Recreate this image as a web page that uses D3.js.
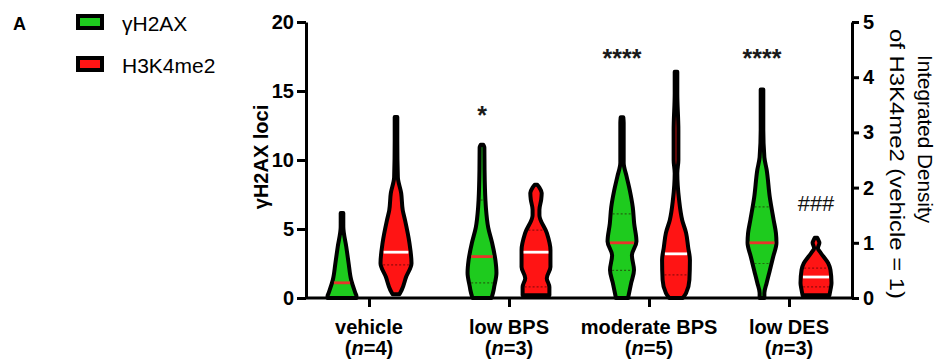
<!DOCTYPE html>
<html><head><meta charset="utf-8">
<script src="https://cdn.jsdelivr.net/npm/d3@7"></script>
<style>
body{margin:0;background:#fff}
text{font-family:"Liberation Sans",Arial,Helvetica,sans-serif}
</style>
</head><body>
<svg id="c" width="941" height="364"></svg>
<script>
// ---------- data ----------
const categories = ["vehicle", "low BPS", "moderate BPS", "low DES"];
const nValues = ["4", "3", "5", "3"];
const series = ["γH2AX", "H3K4me2"];
const leftTicks = [0, 5, 10, 15, 20];
const rightTicks = [0, 1, 2, 3, 4, 5];
const greenStars = ["", "*", "****", "****"];
const redMarks = ["", "", "", "###"];

// γH2AX loci violins: [value, relative density]
const greenVehicle = [[0,0.94],[0.14,0.94],[0.36,0.88],[1.3,0.64],[2.54,0.49],[3.7,0.36],[5.14,0.19],[5.6,0.17],[6.16,0.12]];
const greenLowBPS = [[0,0.66],[0.58,0.78],[0.8,0.81],[1.83,0.94],[2.75,0.88],[4.0,0.69],[5.1,0.47],[6.5,0.34],[7.1,0.31],[9.3,0.26],[10.9,0.25],[11.1,0.14]];
const greenModBPS = [[0,0.46],[1.09,0.64],[2.03,0.8],[3.1,0.68],[4.1,0.94],[5.4,0.81],[6.58,0.73],[7.8,0.56],[8.8,0.38],[9.8,0.21],[12.7,0.21],[13.1,0.12]];
const greenLowDES = [[0,0.25],[0.36,0.25],[1.09,0.38],[2.0,0.56],[2.97,0.75],[4.0,0.94],[4.71,0.91],[5.65,0.78],[7.3,0.56],[9.3,0.38],[10.2,0.25],[12.2,0.16],[14.7,0.17],[15.1,0.1]];
const greenMedians = [1.1, 3.0, 4.0, 4.0];
const greenQuartiles = [[], [1.1, 7.1], [2.0, 6.1], [2.5, 6.6]];

// H3K4me2 integrated density violins (right axis): [value, relative density]
const redVehicle = [[0.07,0.31],[0.145,0.44],[0.38,0.69],[0.63,1.0],[1.0,0.88],[1.41,0.63],[1.59,0.5],[1.9,0.41],[2.19,0.22],[2.85,0.16],[3.22,0.15],[3.28,0.09]];
const redLowBPS = [[0.05,0.88],[0.2,0.88],[0.36,0.73],[0.56,0.94],[0.87,0.94],[1.18,0.73],[1.5,0.31],[1.6,0.31],[1.78,0.41],[1.9,0.44],[2.0,0.31],[2.05,0.12]];
const redModBPS = [[0,0.5],[0.09,0.69],[0.33,0.88],[0.69,0.91],[0.92,0.81],[1.18,0.69],[1.41,0.47],[1.78,0.29],[2.26,0.16],[2.5,0.25],[3.04,0.25],[3.71,0.16],[4.05,0.15],[4.1,0.09]];
const redLowDES = [[0.05,0.88],[0.145,0.94],[0.27,1.0],[0.51,0.94],[0.63,0.81],[0.82,0.38],[0.9,0.22],[1.0,0.31],[1.05,0.25],[1.09,0.1]];
const redMedians = [0.83, 0.83, 0.8, 0.38];
const redQuartiles = [[0.6], [0.2, 1.23], [0.42], [0.2, 0.54]];

const greenProfiles = [greenVehicle, greenLowBPS, greenModBPS, greenLowDES];
const redProfiles = [redVehicle, redLowBPS, redModBPS, redLowDES];

// ---------- drawing ----------
const svg = d3.select("#c");
const GREEN = "#1ecb1e", RED = "#ff1414", MED_RED = "#e8342a";
const SW = 4;

const yL = d3.scaleLinear().domain([0, 20]).range([298, 22]);
const yR = d3.scaleLinear().domain([0, 5]).range([298, 22]);
const x = d3.scalePoint().domain(categories).range([306, 852]).padding(0.45);
const sub = d3.scalePoint().domain(series).range([-27, 27]);
const w = d3.scaleLinear().domain([0, 1]).range([0, 17.5]);

function halfAt(profile, v) {
  for (let i = 0; i < profile.length - 1; i++) {
    const a = profile[i], b = profile[i + 1];
    if (v >= a[0] && v <= b[0]) {
      const t = (v - a[0]) / (b[0] - a[0]);
      return a[1] + t * (b[1] - a[1]);
    }
  }
  return profile[0][1];
}
const inner = d => Math.max(1.3, w(d) - SW / 2);

function drawViolin(profile, cx, y, fill, median, medColor, quarts) {
  const area = d3.area()
    .y(d => y(d[0]))
    .x0(d => cx - inner(d[1]))
    .x1(d => cx + inner(d[1]))
    .curve(d3.curveMonotoneY);
  svg.append("path").attr("d", area(profile))
    .attr("fill", fill).attr("stroke", "#000").attr("stroke-width", SW)
    .attr("stroke-linejoin", "round");
  quarts.forEach(q => {
    const h = inner(halfAt(profile, q)) - 2;
    svg.append("line").attr("x1", cx - h).attr("x2", cx + h)
      .attr("y1", y(q)).attr("y2", y(q))
      .attr("stroke", "rgba(40,0,0,0.5)").attr("stroke-width", 1.2)
      .attr("stroke-dasharray", "2,2");
  });
  const hm = inner(halfAt(profile, median)) - 2;
  svg.append("line").attr("x1", cx - hm).attr("x2", cx + hm)
    .attr("y1", y(median)).attr("y2", y(median))
    .attr("stroke", medColor).attr("stroke-width", 2.8);
}

categories.forEach((c, i) => {
  drawViolin(greenProfiles[i], x(c) + sub(series[0]), yL, GREEN, greenMedians[i], MED_RED, greenQuartiles[i]);
  drawViolin(redProfiles[i], x(c) + sub(series[1]), yR, RED, redMedians[i], "#fff", redQuartiles[i]);
});

// axes
function styleAxis(g) {
  g.selectAll("path,line").attr("stroke", "#000").attr("stroke-width", 3);
  g.selectAll("text").attr("fill", "#000").attr("font-weight", "bold").attr("font-size", 20)
    .attr("font-family", '"Liberation Sans",Arial,sans-serif');
}
const gL = svg.append("g").attr("transform", "translate(306,0)")
  .call(d3.axisLeft(yL).tickValues(leftTicks).tickSize(9).tickSizeOuter(0).tickPadding(3));
styleAxis(gL);
const gR = svg.append("g").attr("transform", "translate(852,0)")
  .call(d3.axisRight(yR).tickValues(rightTicks).tickSize(7).tickSizeOuter(0).tickPadding(4).tickFormat(d3.format("d")));
styleAxis(gR);
const gX = svg.append("g").attr("transform", "translate(0,298)")
  .call(d3.axisBottom(x).tickSize(9).tickSizeOuter(0).tickFormat(""));
gX.select(".domain").attr("d", "M306,0H852");
styleAxis(gX);

// category labels
categories.forEach((c, i) => {
  svg.append("text").attr("x", x(c)).attr("y", 334).attr("text-anchor", "middle")
    .attr("font-weight", "bold").attr("font-size", 20).text(c);
  const t = svg.append("text").attr("x", x(c)).attr("y", 355).attr("text-anchor", "middle")
    .attr("font-weight", "bold").attr("font-size", 20);
  t.append("tspan").text("(");
  t.append("tspan").attr("font-style", "italic").text("n");
  t.append("tspan").text("=" + nValues[i] + ")");
});

// significance marks
categories.forEach((c, i) => {
  if (greenStars[i]) svg.append("text").attr("x", x(c) + sub(series[0]))
    .attr("y", i === 1 ? 124 : 67)
    .attr("text-anchor", "middle").attr("font-size", 25).attr("font-weight", "bold")
    .attr("fill", "#1a1a1a").text(greenStars[i]);
  if (redMarks[i]) svg.append("text").attr("x", x(c) + sub(series[1])).attr("y", 211)
    .attr("text-anchor", "middle").attr("font-size", 22).attr("fill", "#111").text(redMarks[i]);
});

// axis titles
svg.append("text").attr("transform", "translate(268,157) rotate(-90)").attr("text-anchor", "middle")
  .attr("font-weight", "bold").attr("font-size", 20).text("γH2AX loci");
svg.append("text").attr("transform", "translate(918,139) rotate(90)").attr("text-anchor", "middle")
  .attr("font-size", 20).attr("textLength", 168).attr("lengthAdjust", "spacingAndGlyphs").text("Integrated Density");
svg.append("text").attr("transform", "translate(890,164) rotate(90)").attr("text-anchor", "middle")
  .attr("font-size", 20).attr("textLength", 270).attr("lengthAdjust", "spacingAndGlyphs").text("of H3K4me2 (vehicle = 1)");

// panel letter and legend
svg.append("text").attr("x", 13).attr("y", 30).attr("font-weight", "bold").attr("font-size", 18).text("A");
const legColors = [GREEN, RED];
series.forEach((s, i) => {
  const yy = 16 + i * 42;
  svg.append("rect").attr("x", 78).attr("y", yy).attr("width", 24).attr("height", 12)
    .attr("fill", legColors[i]).attr("stroke", "#000").attr("stroke-width", 4);
  svg.append("text").attr("x", 122).attr("y", yy + 15).attr("font-size", 21).text(s);
});
</script>
</body></html>
